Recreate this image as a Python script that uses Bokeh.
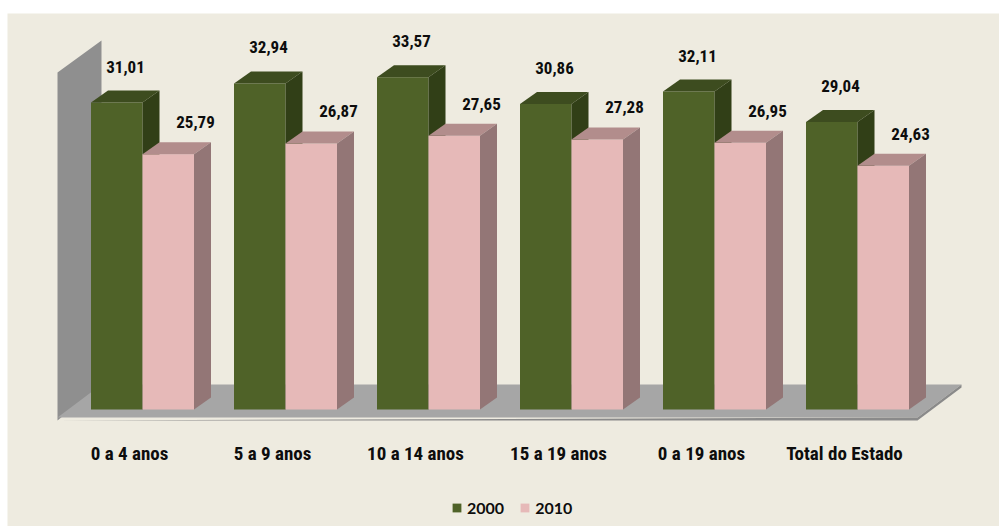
from bokeh.plotting import figure
from bokeh.models import Range1d, Legend, LegendItem, ColumnDataSource
from bokeh.core.properties import value
from bokeh.embed import file_html
from bokeh.resources import INLINE

# ---- data ----
categories = ["0 a 4 anos", "5 a 9 anos", "10 a 14 anos", "15 a 19 anos",
              "0 a 19 anos", "Total do Estado"]
values_2000 = [31.01, 32.94, 33.57, 30.86, 32.11, 29.04]
values_2010 = [25.79, 26.87, 27.65, 27.28, 26.95, 24.63]
series_names = ["2000", "2010"]

# ---- layout constants ----
W, H = 992, 513
PX_X = 143.0          # px per category
PX_Y = 9.9            # px per value unit
X0 = 135.0            # frame px of first category centre
Y0 = 396.0            # frame px (from top) of value zero

BG = "#EEEBE0"
FONT_LBL = ("'Roboto Condensed', 'Liberation Sans Narrow', 'Noto Sans Condensed', "
            "'DejaVu Sans Condensed', sans-serif")

p = figure(width=W, height=H,
           x_range=Range1d(-X0 / PX_X, (W - X0) / PX_X),
           y_range=Range1d(-(H - Y0) / PX_Y, Y0 / PX_Y),
           output_backend="svg", toolbar_location=None,
           min_border=0, x_axis_location=None, y_axis_location=None,
           background_fill_color=BG, border_fill_color=BG,
           outline_line_color=None)
p.margin = (13, 0, 0, 7)
p.xgrid.visible = False
p.ygrid.visible = False

n = len(categories)
xs_c = list(range(n))

# depth offsets
dx = 17 / PX_X
dy = 12 / PX_Y
bw = 51.5 / PX_X

# floor and back wall
fl_l = (57 - 142) / PX_X
fl_r = (917 - 142) / PX_X
fdx = 44 / PX_X
fdy = 33 / PX_Y
f_front = (409 - 417) / PX_Y
f_edge = (409 - 420) / PX_Y
wall_top_front = (409 - 72) / PX_Y
wall_top_back = (409 - 40) / PX_Y

p.patch([fl_l, fl_l, fl_l + fdx, fl_l + fdx],
        [f_edge, wall_top_front, wall_top_back, f_front + fdy],
        fill_color="#8F8F8F", line_color=None)
p.patch([fl_l, fl_r, fl_r + fdx, fl_l + fdx],
        [f_front, f_front, f_front + fdy, f_front + fdy],
        fill_color="#A6A6A6", line_color=None)
p.patch([fl_l, fl_r, fl_r + fdx, fl_r + fdx, fl_r],
        [f_edge, f_edge, f_edge + fdy, f_front + fdy, f_front],
        fill_color="#8A8A8A", line_color=None)


def bars(vals, lefts, front, top, side):
    rights = [l + bw for l in lefts]
    fr = p.quad(left=lefts, right=rights, bottom=0, top=vals,
                fill_color=front, line_color=None)
    p.patches([[l, r, r + dx, l + dx] for l, r in zip(lefts, rights)],
              [[v, v, v + dy, v + dy] for v in vals],
              fill_color=top, line_color=None)
    p.patches([[r, r + dx, r + dx, r] for r in rights],
              [[0, dy, v + dy, v] for v in vals],
              fill_color=side, line_color=None)
    return fr


g = bars(values_2000, [c - bw for c in xs_c], "#4F6228", "#3D4C1F", "#313F17")
k = bars(values_2010, [c for c in xs_c], "#E6B9B8", "#B28D8C", "#937676")

# value labels
def fmt(v):
    return f"{v:.2f}".replace(".", ",")

src_g = ColumnDataSource(dict(x=[c - 17 / PX_X for c in xs_c],
                              y=[v + 36 / PX_Y for v in values_2000],
                              t=[fmt(v) for v in values_2000]))
src_k = ColumnDataSource(dict(x=[c + 53 / PX_X for c in xs_c],
                              y=[v + 32 / PX_Y for v in values_2010],
                              t=[fmt(v) for v in values_2010]))
for s in (src_g, src_k):
    p.text(x="x", y="y", text="t", source=s, text_align="center",
           text_baseline="middle", text_font=value(FONT_LBL),
           text_font_style="bold", text_font_size="17px", text_color="#0D0D0D")

# category labels
p.text(x=[c - 13 / PX_X for c in xs_c], y=[-44 / PX_Y] * n, text=categories,
       text_align="center", text_baseline="middle", text_font=value(FONT_LBL),
       text_font_style="bold", text_font_size="19px", text_color="#0D0D0D")

legend = Legend(items=[LegendItem(label=series_names[0], renderers=[g]),
                       LegendItem(label=series_names[1], renderers=[k])],
                location=(444, 9), orientation="horizontal",
                glyph_width=11, glyph_height=11, label_height=11,
                label_standoff=5, spacing=15, padding=0, margin=0,
                border_line_color=None, background_fill_alpha=0,
                label_text_font="Lato", label_text_font_style="bold",
                label_text_font_size="16px", label_text_color="#0D0D0D",
                label_text_baseline="middle")
p.add_layout(legend)

open("out.html", "w").write(file_html(p, INLINE))
